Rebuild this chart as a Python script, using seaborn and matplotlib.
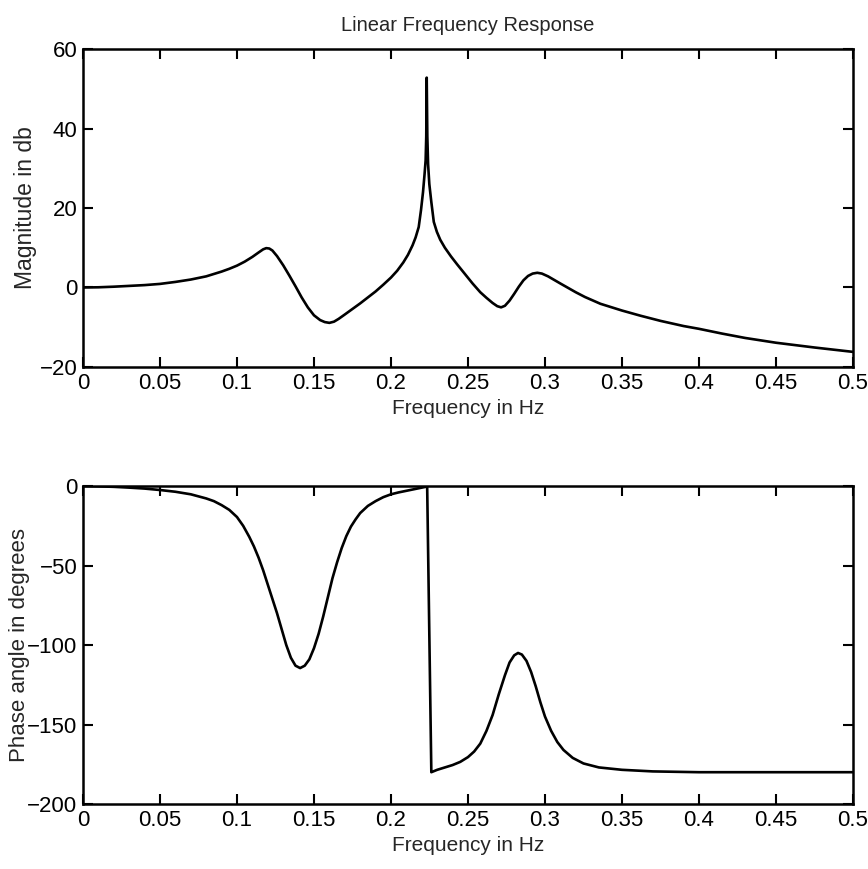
import matplotlib
matplotlib.use("Agg")
import matplotlib.pyplot as plt
import seaborn as sns
import pandas as pd

# --- data ---
mag_freq = [0, 0.01, 0.02, 0.03, 0.04, 0.05, 0.06, 0.07, 0.08, 0.09, 0.095, 0.1,
            0.105, 0.11, 0.114, 0.117, 0.119, 0.121, 0.123, 0.126, 0.13, 0.134,
            0.138, 0.142, 0.146, 0.15, 0.154, 0.157, 0.16, 0.163, 0.166, 0.17,
            0.175, 0.18, 0.185, 0.19, 0.195, 0.2, 0.204, 0.208, 0.211, 0.214,
            0.216, 0.218, 0.2195, 0.2208, 0.2218, 0.2225, 0.2229, 0.2232, 0.2236,
            0.2241, 0.2249, 0.2262, 0.2278, 0.2298, 0.232, 0.235, 0.239, 0.243,
            0.248, 0.253, 0.258, 0.262, 0.266, 0.269, 0.2715, 0.274, 0.277, 0.28,
            0.283, 0.286, 0.289, 0.292, 0.295, 0.298, 0.302, 0.306, 0.31, 0.315,
            0.32, 0.326, 0.336, 0.35, 0.362, 0.375, 0.39, 0.4, 0.415, 0.43, 0.45,
            0.475, 0.5]
mag_db = [0, 0.05, 0.2, 0.4, 0.6, 0.9, 1.4, 2.0, 2.8, 4.0, 4.7, 5.5,
          6.5, 7.7, 8.8, 9.6, 9.9, 9.8, 9.3, 7.9, 5.6, 3.0,
          0.3, -2.5, -5.0, -7.0, -8.2, -8.7, -8.9, -8.6, -7.9, -6.8,
          -5.4, -4.0, -2.5, -1.0, 0.7, 2.5, 4.2, 6.3, 8.2, 10.6,
          12.6, 15.2, 19.5, 24, 28.5, 32, 38, 52.8, 38,
          31, 26, 21.5, 16.5, 14.0, 12.0, 10.0, 7.8, 5.8,
          3.4, 1.0, -1.2, -2.6, -3.9, -4.7, -5.0, -4.6, -3.3, -1.6,
          0.2, 1.8, 2.9, 3.5, 3.7, 3.5, 2.8, 1.9, 1.0, -0.1,
          -1.2, -2.4, -4.1, -5.8, -7.1, -8.4, -9.7, -10.4, -11.6, -12.7, -13.9,
          -15.1, -16.2]

phase_freq = [0, 0.01, 0.02, 0.03, 0.04, 0.05, 0.06, 0.07, 0.08, 0.085, 0.09,
              0.095, 0.1, 0.104, 0.108, 0.111, 0.114, 0.117, 0.12, 0.123, 0.126,
              0.129, 0.132, 0.135, 0.138, 0.141, 0.144, 0.147, 0.15, 0.153,
              0.156, 0.159, 0.162, 0.165, 0.168, 0.171, 0.174, 0.177, 0.18,
              0.185, 0.19, 0.195, 0.2, 0.205, 0.21, 0.215, 0.22, 0.2235,
              0.2262, 0.23, 0.235, 0.24, 0.245, 0.25, 0.254, 0.258, 0.262,
              0.266, 0.27, 0.274, 0.277, 0.28, 0.2825, 0.285, 0.288, 0.291,
              0.294, 0.297, 0.3, 0.304, 0.308, 0.312, 0.318, 0.325, 0.335,
              0.35, 0.37, 0.4, 0.5]
phase_deg = [0, -0.2, -0.5, -1, -1.6, -2.5, -3.6, -5.2, -7.8, -9.5, -12,
             -15, -19.5, -25, -32, -38, -45, -53, -62, -71, -80,
             -90, -100, -108, -113, -114.5, -113, -109, -102, -93,
             -82, -70, -58, -48, -39, -31.5, -25.5, -21, -17,
             -12.5, -9.5, -7, -5.2, -4, -3, -2, -1, -0.3,
             -180, -178.5, -177, -175.5, -173.5, -170.5, -167, -162, -154,
             -144, -131, -119, -111, -106.5, -105, -106, -110, -117,
             -126, -136, -145, -154, -161, -166, -171, -174.5, -177,
             -178.5, -179.5, -180, -180]

x_ticks = [0, 0.05, 0.1, 0.15, 0.2, 0.25, 0.3, 0.35, 0.4, 0.45, 0.5]
x_tick_labels = ["0", "0.05", "0.1", "0.15", "0.2", "0.25", "0.3", "0.35", "0.4", "0.45", "0.5"]
mag_yticks = [-20, 0, 20, 40, 60]
phase_yticks = [-200, -150, -100, -50, 0]

title = "Linear Frequency Response"
xlabel = "Frequency in Hz"
mag_ylabel = "Magnitude in db"
phase_ylabel = "Phase angle in degrees"

# --- style ---
sns.set_style("ticks")
fam = ["Liberation Sans", "DejaVu Sans"]
plt.rcParams["font.family"] = fam
plt.rcParams["xtick.direction"] = "in"
plt.rcParams["ytick.direction"] = "in"

fig = plt.figure(figsize=(8.68, 8.69), dpi=100)
ax1 = fig.add_axes([0.0956, 0.5777, 0.8871, 0.3659])
ax2 = fig.add_axes([0.0956, 0.0748, 0.8871, 0.3659])

mag_df = pd.DataFrame({"freq": mag_freq, "mag": mag_db})
phase_df = pd.DataFrame({"freq": phase_freq, "phase": phase_deg})

sns.lineplot(data=mag_df, x="freq", y="mag", ax=ax1, color="black",
             linewidth=1.9, sort=False, estimator=None)
sns.lineplot(data=phase_df, x="freq", y="phase", ax=ax2, color="black",
             linewidth=1.9, sort=False, estimator=None)

for ax, yt in ((ax1, mag_yticks), (ax2, phase_yticks)):
    ax.set_xlim(0, 0.5)
    ax.set_ylim(yt[0], yt[-1])
    ax.set_xticks(x_ticks)
    ax.set_xticklabels(x_tick_labels)
    ax.set_yticks(yt)
    ax.tick_params(axis="both", which="both", direction="in", length=7, width=1.5,
                   top=True, right=True, labelsize=16, pad=4, colors="black")
    for s in ax.spines.values():
        s.set_visible(True)
        s.set_linewidth(1.8)
        s.set_color("black")
    ax.set_xlabel(xlabel, fontsize=15, labelpad=4)

ax1.set_ylabel(mag_ylabel, fontsize=16.5, labelpad=2)
ax2.set_ylabel(phase_ylabel, fontsize=16, labelpad=-2)
ax1.set_title(title, fontsize=14.5, pad=13)

fig.savefig("out.png", dpi=100)
